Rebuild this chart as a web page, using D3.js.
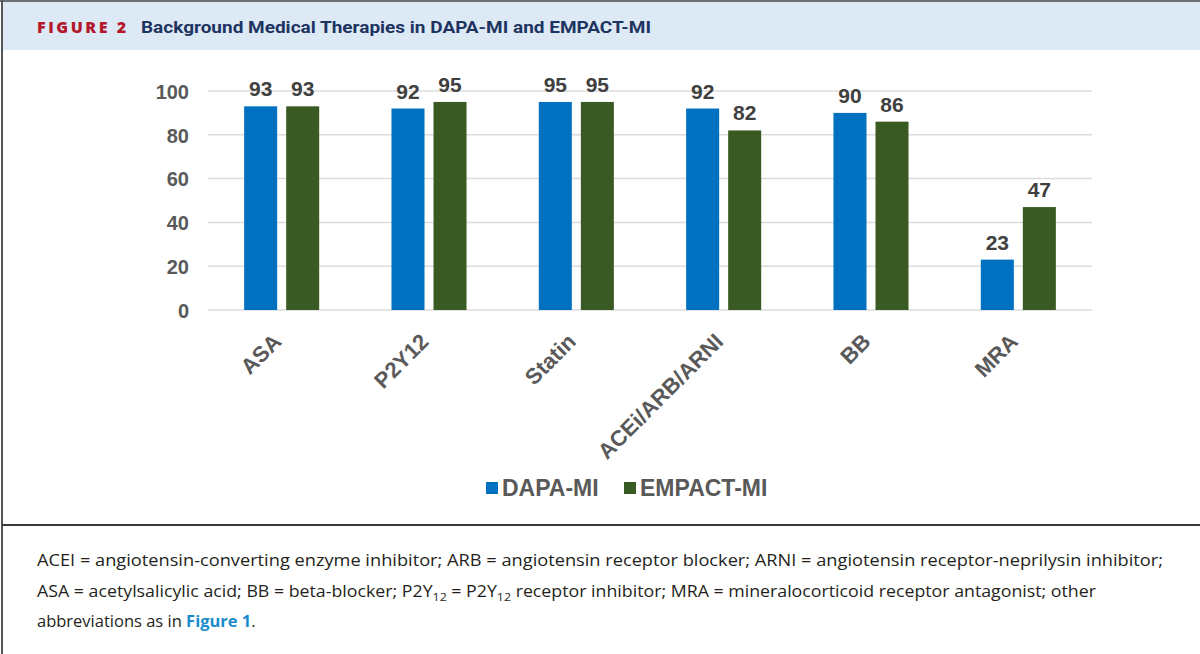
<!DOCTYPE html>
<html>
<head>
<meta charset="utf-8">
<script src="https://cdn.jsdelivr.net/npm/d3@7"></script>
<style>
  html, body { margin: 0; padding: 0; background: #fff; }
  svg { display: block; }
</style>
</head>
<body>
<svg id="chart" width="1200" height="654"></svg>
<script>
// ---- data ----
const categories = ["ASA", "P2Y12", "Statin", "ACEi/ARB/ARNI", "BB", "MRA"];
const seriesNames = ["DAPA-MI", "EMPACT-MI"];
const dapaValues = [93, 92, 95, 92, 90, 23];
const empactValues = [93, 95, 95, 82, 86, 47];
const yTicks = [0, 20, 40, 60, 80, 100];
const seriesColors = ["#0070c0", "#3a5a24"];

const figureLabel = "FIGURE 2";
const figureTitle = "Background Medical Therapies in DAPA-MI and EMPACT-MI";

const data = categories.map((c, i) => ({ cat: c, values: [dapaValues[i], empactValues[i]] }));

const svg = d3.select("#chart");

// ---- frame ----
svg.append("rect").attr("x", 3).attr("y", 2).attr("width", 1197).attr("height", 48).attr("fill", "#dde9f5");
svg.append("line").attr("x1", 0).attr("x2", 1200).attr("y1", 1).attr("y2", 1).attr("stroke", "#6b6e73").attr("stroke-width", 2);
svg.append("line").attr("x1", 2).attr("x2", 2).attr("y1", 0).attr("y2", 654).attr("stroke", "#555").attr("stroke-width", 2);
svg.append("line").attr("x1", 2).attr("x2", 1200).attr("y1", 525).attr("y2", 525).attr("stroke", "#3a3a3a").attr("stroke-width", 2);

// ---- header ----
svg.append("text").attr("x", 37).attr("y", 33)
  .attr("font-family", "'Open Sans', 'Noto Sans', sans-serif").attr("font-weight", 800)
  .attr("font-size", 16).attr("fill", "#b3192b")
  .attr("textLength", 89).attr("lengthAdjust", "spacing")
  .text(figureLabel);
svg.append("text").attr("x", 141).attr("y", 33)
  .attr("font-family", "'Liberation Sans Narrow', 'Roboto', sans-serif").attr("font-weight", 700)
  .attr("font-size", 17).attr("fill", "#1d3461")
  .attr("textLength", 510).attr("lengthAdjust", "spacingAndGlyphs")
  .text(figureTitle);

// ---- scales ----
const x0 = d3.scaleBand().domain(categories).range([208, 1092]).padding(0);
const x1 = d3.scaleBand().domain(seriesNames).range([0, x0.bandwidth()])
  .paddingInner(9 / 42).paddingOuter(0.86);
const y = d3.scaleLinear().domain([0, 100]).range([310, 91]);

const font = "'Liberation Sans', Arial, sans-serif";

// gridlines
svg.append("g").selectAll("line").data(yTicks).join("line")
  .attr("x1", 208).attr("x2", 1092)
  .attr("y1", d => y(d)).attr("y2", d => y(d))
  .attr("stroke", "#dcdcdc").attr("stroke-width", 1.5);

// y axis labels
const yAxis = d3.axisLeft(y).tickValues(yTicks).tickSize(0).tickPadding(0);
const yg = svg.append("g").attr("transform", "translate(189,0)").call(yAxis);
yg.select(".domain").remove();
yg.selectAll("text").attr("font-family", font).attr("font-weight", 700)
  .attr("font-size", 20).attr("fill", "#595959").attr("dy", "0.36em");

// bars
const groups = svg.append("g").selectAll("g").data(data).join("g")
  .attr("transform", d => `translate(${x0(d.cat)},0)`);
groups.selectAll("rect").data(d => d.values.map((v, i) => ({ s: seriesNames[i], v, i }))).join("rect")
  .attr("x", d => x1(d.s)).attr("width", x1.bandwidth())
  .attr("y", d => y(d.v)).attr("height", d => y(0) - y(d.v))
  .attr("fill", d => seriesColors[d.i]);
groups.selectAll("text").data(d => d.values.map((v, i) => ({ s: seriesNames[i], v, i }))).join("text")
  .attr("x", d => x1(d.s) + x1.bandwidth() / 2).attr("y", d => y(d.v) - 10)
  .attr("text-anchor", "middle").attr("font-family", font).attr("font-weight", 700)
  .attr("font-size", 21).attr("fill", "#404040")
  .text(d => d.v);

// category labels
svg.append("g").selectAll("text").data(categories).join("text")
  .attr("transform", d => `translate(${x0(d) + x0.bandwidth() / 2 + 1},343) rotate(-45)`)
  .attr("text-anchor", "end").attr("font-family", font).attr("font-weight", 700)
  .attr("font-size", 22).attr("fill", "#595959")
  .text(d => d);

// legend
const legendX = [486, 624];
const lg = svg.append("g").selectAll("g").data(seriesNames).join("g")
  .attr("transform", (d, i) => `translate(${legendX[i]},482)`);
lg.append("rect").attr("width", 12).attr("height", 12).attr("fill", (d, i) => seriesColors[i]);
lg.append("text").attr("x", 16).attr("y", 14)
  .attr("font-family", font).attr("font-weight", 700).attr("font-size", 23).attr("fill", "#595959")
  .text(d => d);

// ---- caption ----
const capFont = "'Open Sans', 'Noto Sans', sans-serif";
const cap = svg.append("g").attr("font-family", capFont).attr("font-size", 16.5).attr("fill", "#231f20");
cap.append("text").attr("x", 37).attr("y", 566)
  .attr("textLength", 1126).attr("lengthAdjust", "spacingAndGlyphs")
  .text("ACEI = angiotensin-converting enzyme inhibitor; ARB = angiotensin receptor blocker; ARNI = angiotensin receptor-neprilysin inhibitor;");
const l2 = cap.append("text").attr("x", 37).attr("y", 597)
  .attr("textLength", 1059).attr("lengthAdjust", "spacingAndGlyphs");
l2.append("tspan").text("ASA = acetylsalicylic acid; BB = beta-blocker; P2Y");
l2.append("tspan").attr("font-size", 11.5).attr("dy", 4).text("12");
l2.append("tspan").attr("dy", -4).text(" = P2Y");
l2.append("tspan").attr("font-size", 11.5).attr("dy", 4).text("12");
l2.append("tspan").attr("dy", -4).text(" receptor inhibitor; MRA = mineralocorticoid receptor antagonist; other");
const l3 = cap.append("text").attr("x", 37).attr("y", 627);
l3.append("tspan").text("abbreviations as in ");
l3.append("tspan").attr("font-weight", 700).attr("fill", "#1a8ccb").text("Figure 1");
l3.append("tspan").text(".");
</script>
</body>
</html>
